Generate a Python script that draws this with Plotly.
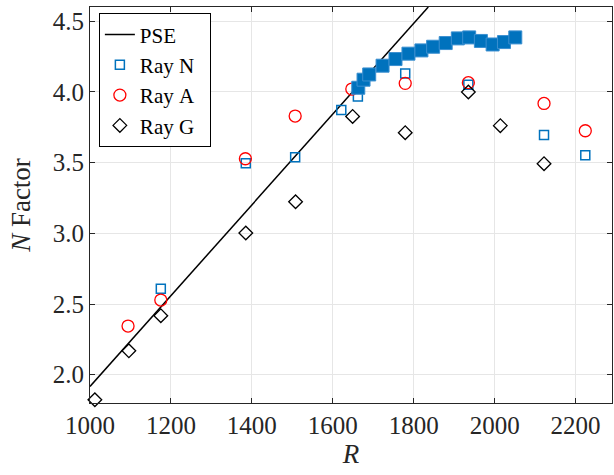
import plotly.graph_objects as go

# PSE line endpoints
pse_R = [1000, 1836]
pse_N = [1.917, 4.6]

# Ray N (open squares)
rayN_R = [1175, 1385, 1507, 1621, 1662, 1779, 1935, 2122, 2224]
rayN_N = [2.608, 3.495, 3.537, 3.872, 3.968, 4.13, 4.05, 3.695, 3.551]

# Ray A (open circles)
rayA_R = [1094, 1175, 1384, 1507, 1647, 1779, 1935, 2122, 2224]
rayA_N = [2.344, 2.528, 3.527, 3.829, 4.02, 4.06, 4.065, 3.918, 3.725]

# Ray G (open diamonds)
rayG_R = [1012, 1096, 1175, 1385, 1508, 1649, 1779, 1935, 2014, 2122]
rayG_N = [1.823, 2.169, 2.417, 3.002, 3.223, 3.826, 3.711, 3.999, 3.761, 3.492]

# Filled squares series
fill_R = [1663, 1676, 1690, 1723, 1755, 1787, 1819, 1848, 1879, 1909, 1937, 1966, 1995, 2023, 2051]
fill_N = [4.029, 4.086, 4.123, 4.185, 4.232, 4.270, 4.293, 4.319, 4.345, 4.378, 4.385, 4.360, 4.335, 4.352, 4.385]

FONT = "Liberation Serif, Times New Roman, serif"
BLUE = "#0072BD"
NB = "\u00a0"

fig = go.Figure()
fig.add_trace(go.Scatter(x=pse_R, y=pse_N, mode="lines", name="PSE",
                         line=dict(color="black", width=1.5)))
fig.add_trace(go.Scatter(x=rayN_R, y=rayN_N, mode="markers", name="Ray" + NB + "N" + NB * 2,
                         marker=dict(symbol="square-open", size=9, color=BLUE,
                                     line=dict(width=1.5, color=BLUE))))
fig.add_trace(go.Scatter(x=rayA_R, y=rayA_N, mode="markers", name="Ray" + NB + "A",
                         marker=dict(symbol="circle-open", size=12, color="#FF0000",
                                     line=dict(width=1.3, color="#FF0000"))))
fig.add_trace(go.Scatter(x=rayG_R, y=rayG_N, mode="markers", name="Ray" + NB + "G",
                         cliponaxis=False,
                         marker=dict(symbol="diamond-open", size=10.5, color="black",
                                     line=dict(width=1.3, color="black"))))
fig.add_trace(go.Scatter(x=fill_R, y=fill_N, mode="lines+markers", showlegend=False,
                         line=dict(color="#4DA3DB", width=1),
                         marker=dict(symbol="square", size=13, color=BLUE,
                                     line=dict(width=1, color="#3A8FD0"))))

axis_common = dict(
    showline=True, linecolor="#262626", linewidth=1, mirror="allticks",
    ticks="inside", ticklen=5, tickcolor="#262626", tickwidth=1,
    showgrid=True, gridcolor="#E6E6E6", gridwidth=1, zeroline=False,
    tickfont=dict(family=FONT, size=25, color="#262626"),
)

fig.update_layout(
    width=614, height=475,
    margin=dict(l=90, r=2, t=7, b=72),
    paper_bgcolor="white", plot_bgcolor="white",
    font=dict(family=FONT, color="#262626"),
    xaxis=dict(range=[1000, 2290], tick0=1000, dtick=200, tickformat="d",
               title=dict(text="<i>R</i>", font=dict(family=FONT, size=27), standoff=6),
               **axis_common),
    yaxis=dict(range=[1.8, 4.6], tick0=2.0, dtick=0.5, tickformat=".1f",
               title=dict(text="<i>N</i> Factor", font=dict(family=FONT, size=27), standoff=14),
               **axis_common),
    legend=dict(x=0.017, y=0.984, xanchor="left", yanchor="top",
                bgcolor="white", bordercolor="black", borderwidth=1,
                font=dict(family=FONT, size=21, color="black"),
                tracegroupgap=0),
)

fig.write_html("out.html")
